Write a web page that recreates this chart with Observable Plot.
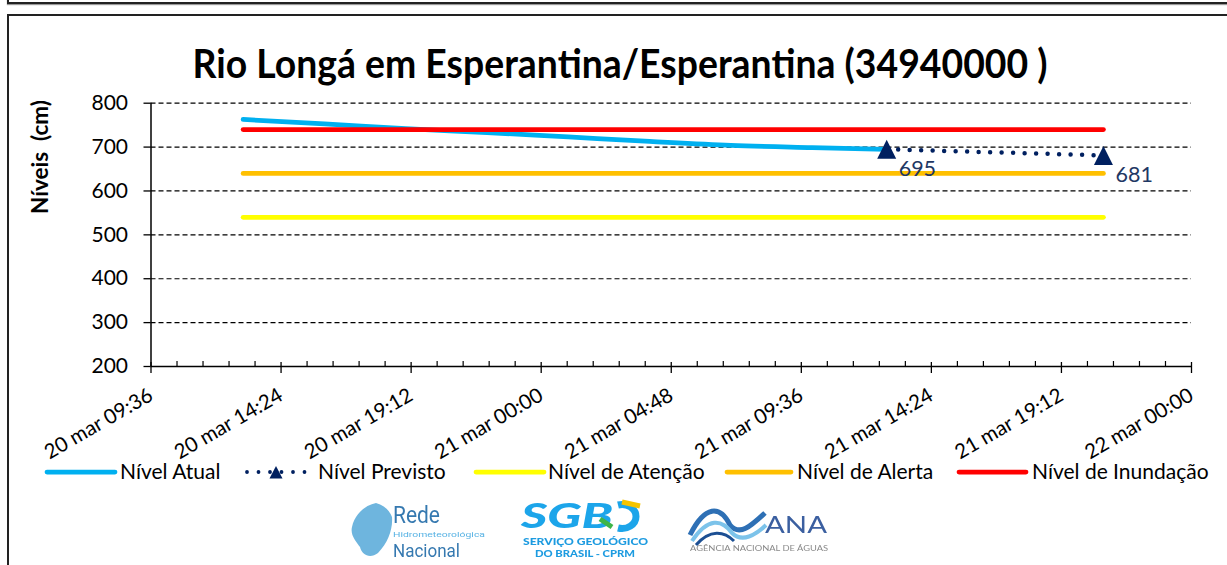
<!DOCTYPE html>
<html><head><meta charset="utf-8">
<script src="https://cdn.jsdelivr.net/npm/d3@7"></script>
<script src="https://cdn.jsdelivr.net/npm/@observablehq/plot@0.6"></script>
<style>
body{margin:0;background:#fff;}
#wrap{position:relative;width:1227px;height:565px;overflow:hidden;background:#fff;font-family:Lato,"Open Sans",sans-serif;}
.frame1{position:absolute;left:7px;top:-12px;width:1240px;height:12px;border:2px solid #222;box-shadow:0 1px 1px #999;}
.frame2{position:absolute;left:7px;top:14px;width:1240px;height:600px;border:2px solid #222;box-shadow:1px 1px 1px #999;}
#title{position:absolute;left:0;top:0;}
#plot{position:absolute;left:0;top:0;}
#legend{position:absolute;left:0;top:450px;}
#logos{position:absolute;left:0;top:485px;}
</style></head><body><div id="wrap">
<div class="frame1"></div><div class="frame2"></div>
<svg id="title" width="1227" height="100"><text x="620" y="78" text-anchor="middle" font-family="Lato, sans-serif" font-weight="700" font-size="40" textLength="855" lengthAdjust="spacingAndGlyphs" fill="#000">Rio Longá em Esperantina/Esperantina (34940000 )</text></svg>
<div id="plot"></div>
<svg id="legend" width="1227" height="45"></svg>
<svg id="logos" width="1227" height="80"></svg>
</div>
<script>
// ---- data ----
const titleText = "Rio Longá em Esperantina/Esperantina (34940000 )";
const yLabel = "Níveis  (cm)";
const seriesNames = ["Nível Atual", "Nível Previsto", "Nível de Atenção", "Nível de Alerta", "Nível de Inundação"];
const seriesColors = ["#00B0F0", "#002060", "#FFFF00", "#FFC000", "#FF0000"];
const atualTimes = ["2025-03-20T13:00", "2025-03-20T16:00", "2025-03-20T19:00", "2025-03-20T22:00", "2025-03-21T01:00", "2025-03-21T04:00", "2025-03-21T07:00", "2025-03-21T10:00", "2025-03-21T12:45"];
const atualValues = [763, 753, 742, 733, 723, 713, 704, 699, 695];
const previstoTimes = ["2025-03-21T12:45", "2025-03-21T20:45"];
const previstoValues = [695, 681];
const thresholdTimes = ["2025-03-20T13:00", "2025-03-21T20:45"];
const thresholdValues = [540, 640, 740]; // Atenção, Alerta, Inundação
const xTickTimes = ["2025-03-20T09:36", "2025-03-20T14:24", "2025-03-20T19:12", "2025-03-21T00:00", "2025-03-21T04:48", "2025-03-21T09:36", "2025-03-21T14:24", "2025-03-21T19:12", "2025-03-22T00:00"];
const xTickLabels = ["20 mar 09:36", "20 mar 14:24", "20 mar 19:12", "21 mar 00:00", "21 mar 04:48", "21 mar 09:36", "21 mar 14:24", "21 mar 19:12", "22 mar 00:00"];
const yTicks = [200, 300, 400, 500, 600, 700, 800];

// ---- build ----
const parse = s => new Date(s);
const majorTicks = xTickTimes.map(parse);
const xDomain = [majorTicks[0], majorTicks[majorTicks.length - 1]];
const step = (xDomain[1] - xDomain[0]) / 40;
const minorTicks = d3.range(1, 40).filter(i => i % 5 !== 0).map(i => new Date(+xDomain[0] + i * step));
const labelOf = new Map(majorTicks.map((d, i) => [+d, xTickLabels[i]]));
const atual = atualTimes.map((t, i) => ({date: parse(t), value: atualValues[i]}));
const previsto = previstoTimes.map((t, i) => ({date: parse(t), value: previstoValues[i]}));
const thr = thresholdValues.flatMap((v, k) => thresholdTimes.map(t => ({date: parse(t), value: v, name: seriesNames[k + 2], color: seriesColors[k + 2]})));

const tri = {draw(ctx, size) { const r = Math.sqrt(size / Math.PI); ctx.moveTo(0, -r); ctx.lineTo(r, r); ctx.lineTo(-r, r); ctx.closePath(); }};

const chart = Plot.plot({
  width: 1227, height: 460,
  marginLeft: 150.5, marginRight: 36, marginTop: 102.7, marginBottom: 94,
  style: {fontFamily: "Lato, sans-serif", background: "transparent", color: "#000", overflow: "visible"},
  x: {type: "time", domain: xDomain},
  y: {domain: [200, 800]},
  color: {type: "identity"},
  marks: [
    Plot.ruleY(yTicks.slice(1), {stroke: "#000", strokeWidth: 1.2, strokeDasharray: "5,3"}),
    Plot.axisY({ticks: yTicks, tickSize: 7, tickPadding: 16, fontSize: 21, label: null, tickFormat: d => String(d), strokeWidth: 1.3}),
    Plot.ruleX([xDomain[0]], {y1: 200, y2: 800, stroke: "#000", strokeWidth: 1.5}),
    Plot.ruleY([200], {stroke: "#000", strokeWidth: 1.5}),
    Plot.ruleX(minorTicks, {y1: 200, y2: 200, insetTop: -5, stroke: "#000", strokeWidth: 1.2}),
    Plot.ruleX(majorTicks, {y1: 200, y2: 200, insetTop: -4, insetBottom: -7, stroke: "#000", strokeWidth: 1.3}),
    Plot.axisX({ticks: majorTicks, tickSize: 0, tickRotate: -30, tickPadding: 27, fontSize: 20.5, tickFormat: d => labelOf.get(+d), label: null}),
    Plot.line(atual, {x: "date", y: "value", stroke: seriesColors[0], strokeWidth: 4.75, strokeLinecap: "round", curve: "monotone-x"}),
    Plot.line(previsto, {x: "date", y: "value", stroke: seriesColors[1], strokeWidth: 4.5, strokeDasharray: "0,11.5", strokeLinecap: "round"}),
    Plot.line(thr, {x: "date", y: "value", z: "name", stroke: "color", strokeWidth: 4.75, strokeLinecap: "round"}),
    Plot.dot(previsto, {x: "date", y: "value", symbol: tri, r: 9.5, fill: seriesColors[1]}),
    Plot.text(previsto, {x: "date", y: "value", text: d => String(d.value), dx: 12, dy: 20, textAnchor: "start", fill: "#1F3864", fontSize: 21.5})
  ]
});
document.getElementById("plot").appendChild(chart);

// y label
const ysvg = d3.select(chart);
ysvg.append("text").attr("transform", "translate(48,157) rotate(-90)").attr("text-anchor", "middle")
  .attr("font-weight", 700).attr("font-size", 22.5).attr("font-family", "Lato, sans-serif").attr("fill", "#000").text(yLabel);

// legend
const lg = d3.select("#legend");
const cy = 22;
const items = [
  {x1: 47, x2: 115, tx: 120, kind: "line"},
  {x1: 247, x2: 305, tx: 318, kind: "prev"},
  {x1: 476, x2: 544, tx: 548, kind: "line"},
  {x1: 727, x2: 791, tx: 797, kind: "line"},
  {x1: 959, x2: 1026, tx: 1032, kind: "line"}
];
items.forEach((it, i) => {
  if (it.kind === "line") {
    lg.append("line").attr("x1", it.x1).attr("x2", it.x2).attr("y1", cy).attr("y2", cy)
      .attr("stroke", seriesColors[i]).attr("stroke-width", 4.75).attr("stroke-linecap", "round");
  } else {
    lg.append("line").attr("x1", it.x1).attr("x2", it.x2).attr("y1", cy).attr("y2", cy)
      .attr("stroke", seriesColors[i]).attr("stroke-width", 3.8).attr("stroke-linecap", "round").attr("stroke-dasharray", "0,11.5");
    lg.append("path").attr("d", `M276,${cy - 6}L282.5,${cy + 6.5}L269.5,${cy + 6.5}Z`).attr("fill", seriesColors[i]);
  }
  lg.append("text").attr("x", it.tx).attr("y", cy).attr("dy", "0.35em").attr("font-size", 21)
    .attr("font-family", "Lato, sans-serif").attr("fill", "#000").text(seriesNames[i]);
});

// logos (approximate, as text + simple shapes)
const lo = d3.select("#logos");
const defs = lo.append("defs");
defs.append("filter").attr("id", "blur").append("feGaussianBlur").attr("stdDeviation", 0.6);
const g1 = lo.append("g").attr("filter", "url(#blur)");
g1.append("path").attr("d", "M352,42 C355,28 366,20 376,18 C384,20 390,26 392,32 C393,44 388,58 378,68 C370,74 362,70 360,62 C356,56 350,50 352,42Z").attr("fill", "#4aa3d6").attr("opacity", 0.8);
g1.append("text").attr("x", 393).attr("y", 38).attr("font-size", 23).attr("font-family", "Roboto, sans-serif").attr("fill", "#3679b0").attr("textLength", 47).attr("lengthAdjust", "spacingAndGlyphs").text("Rede");
g1.append("text").attr("x", 393).attr("y", 52).attr("font-size", 7).attr("font-family", "Roboto, sans-serif").attr("fill", "#59b3e4").attr("textLength", 92).attr("lengthAdjust", "spacingAndGlyphs").text("Hidrometeorológica");
g1.append("text").attr("x", 393).attr("y", 72).attr("font-size", 19).attr("font-family", "Roboto, sans-serif").attr("fill", "#3679b0").attr("textLength", 67).attr("lengthAdjust", "spacingAndGlyphs").text("Nacional");
const g2 = lo.append("g").attr("filter", "url(#blur)");
g2.append("text").attr("x", 521).attr("y", 43).attr("font-size", 34).attr("font-weight", 900).attr("font-style", "italic").attr("font-family", "Lato, sans-serif").attr("fill", "#1ea5ea").attr("textLength", 92).attr("lengthAdjust", "spacingAndGlyphs").text("SGB");
g2.append("path").attr("d", "M618,20 A14,12 0 1 1 618,43").attr("fill", "none").attr("stroke", "#1ea5ea").attr("stroke-width", 7);
g2.append("path").attr("d", "M622,17 L640,21").attr("stroke", "#f5c400").attr("stroke-width", 5);
g2.append("path").attr("d", "M600,34 L612,42").attr("stroke", "#3cb54a").attr("stroke-width", 5);
g2.append("text").attr("x", 523).attr("y", 60).attr("font-size", 9).attr("font-weight", 900).attr("font-family", "Lato, sans-serif").attr("fill", "#1e9be0").attr("textLength", 125).attr("lengthAdjust", "spacingAndGlyphs").text("SERVIÇO GEOLÓGICO");
g2.append("text").attr("x", 535).attr("y", 72).attr("font-size", 9).attr("font-weight", 900).attr("font-family", "Lato, sans-serif").attr("fill", "#1e9be0").attr("textLength", 100).attr("lengthAdjust", "spacingAndGlyphs").text("DO BRASIL - CPRM");
const g3 = lo.append("g").attr("filter", "url(#blur)");
g3.append("path").attr("d", "M690,50 C705,20 720,20 730,40 C740,52 752,40 765,28").attr("fill", "none").attr("stroke", "#2d6fb5").attr("stroke-width", 5);
g3.append("path").attr("d", "M692,56 C708,32 722,34 732,48 C742,58 756,50 766,40").attr("fill", "none").attr("stroke", "#7cc3ea").attr("stroke-width", 4);
g3.append("path").attr("d", "M696,60 C710,44 724,46 734,56").attr("fill", "none").attr("stroke", "#1b4f93").attr("stroke-width", 3);
g3.append("text").attr("x", 765).attr("y", 48).attr("font-size", 24).attr("font-family", "Lato, sans-serif").attr("fill", "#3a5fa0").attr("textLength", 62).attr("lengthAdjust", "spacingAndGlyphs").text("ANA");
g3.append("text").attr("x", 690).attr("y", 66).attr("font-size", 7).attr("font-family", "Lato, sans-serif").attr("fill", "#8a8a8a").attr("textLength", 138).attr("lengthAdjust", "spacingAndGlyphs").text("AGÊNCIA NACIONAL DE ÁGUAS");
</script>
</body></html>
